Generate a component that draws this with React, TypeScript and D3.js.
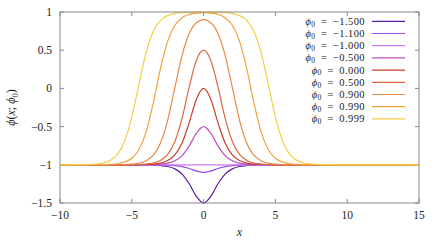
import React from "react";
import * as d3 from "d3";

// x grid (right half; the profiles are symmetric about x = 0)
const xGrid = [0, 0.5, 1, 1.5, 2, 2.5, 3, 3.5, 4, 4.5, 5, 5.5, 6, 6.5, 7, 7.5, 8, 9, 10, 15];

const phi0Labels = ["−1.500", "−1.100", "−1.000", "−0.500", "0.000", "0.500", "0.900", "0.990", "0.999"];

const sM150 = [-1.5, -1.414, -1.248, -1.121, -1.053, -1.022, -1.009, -1.004, -1.002, -1.001, -1, -1, -1, -1, -1, -1, -1, -1, -1, -1];
const sM110 = [-1.1, -1.082, -1.048, -1.023, -1.01, -1.004, -1.002, -1.001, -1, -1, -1, -1, -1, -1, -1, -1, -1, -1, -1, -1];
const sM100 = [-1, -1, -1, -1, -1, -1, -1, -1, -1, -1, -1, -1, -1, -1, -1, -1, -1, -1, -1, -1];
const sM050 = [-0.5, -0.586, -0.752, -0.879, -0.947, -0.978, -0.991, -0.996, -0.998, -0.999, -1, -1, -1, -1, -1, -1, -1, -1, -1, -1];
const sP000 = [0, -0.142, -0.448, -0.715, -0.871, -0.945, -0.978, -0.991, -0.996, -0.9985, -1, -1, -1, -1, -1, -1, -1, -1, -1, -1];
const sP050 = [0.5, 0.368, 0.019, -0.39, -0.696, -0.865, -0.943, -0.977, -0.99, -0.996, -0.9985, -1, -1, -1, -1, -1, -1, -1, -1, -1];
const sP090 = [0.9, 0.86, 0.719, 0.433, 0.012, -0.415, -0.714, -0.874, -0.947, -0.978, -0.991, -0.9965, -0.9986, -1, -1, -1, -1, -1, -1, -1];
const sP099 = [0.99, 0.986, 0.969, 0.926, 0.826, 0.618, 0.261, -0.185, -0.566, -0.799, -0.914, -0.964, -0.986, -0.994, -0.998, -0.999, -1, -1, -1, -1];
const sP0999 = [0.999, 0.999, 0.997, 0.992, 0.981, 0.954, 0.89, 0.748, 0.472, 0.059, -0.377, -0.691, -0.863, -0.942, -0.976, -0.99, -0.996, -0.999, -1, -1];

const seriesList = [sM150, sM110, sM100, sM050, sP000, sP050, sP090, sP099, sP0999];
const colors = ["#5a1d9e", "#9a4de8", "#c77cf8", "#bd4fc2", "#c8402c", "#dc6942", "#e98a4a", "#f2a33a", "#f6cd45"];

const xTicks = [-10, -5, 0, 5, 10, 15];
const yTicks = [-1.5, -1, -0.5, 0, 0.5, 1];
const yTickLabels = ["−1.5", "−1", "−0.5", "0", "0.5", "1"];
const xTickLabels = ["−10", "−5", "0", "5", "10", "15"];

const W = 442, H = 243;
const L = 60, R = 419, T = 12, B = 203;
const FONT = "'Liberation Serif', 'Times New Roman', serif";

export default function App() {
  const x = d3.scaleLinear().domain([-10, 15]).range([L, R]);
  const y = d3.scaleLinear().domain([-1.5, 1]).range([B, T]);
  const line = d3
    .line<[number, number]>()
    .x((d) => x(d[0]))
    .y((d) => y(d[1]))
    .curve(d3.curveMonotoneX);

  const buildPts = (vals: number[]): [number, number][] => {
    const left: [number, number][] = [];
    for (let i = xGrid.length - 1; i > 0; i--) {
      if (-xGrid[i] >= -10) left.push([-xGrid[i], vals[i]]);
    }
    const right: [number, number][] = xGrid.map((g, i) => [g, vals[i]] as [number, number]);
    return [...left, ...right];
  };

  const tickLen = 4;
  const legendTextX = 365;
  const legendLineX0 = 372;
  const legendLineX1 = 405;
  const legendY0 = 21.3;
  const legendDy = 12.2;
  const txt = { fontFamily: FONT, fill: "#222" } as React.CSSProperties;

  return (
    <svg width={W} height={H} style={{ position: "absolute", left: 0, top: 0, background: "#fff", fontFamily: FONT }}>
      <rect x={0} y={0} width={W} height={H} fill="#fff" />
      {/* ticks */}
      {xTicks.map((t, i) => (
        <g key={"xt" + i}>
          <line x1={x(t)} x2={x(t)} y1={B} y2={B - tickLen} stroke="#888" strokeWidth={1} />
          <line x1={x(t)} x2={x(t)} y1={T} y2={T + tickLen} stroke="#888" strokeWidth={1} />
          <text x={x(t)} y={219} textAnchor="middle" fontSize={11.5} style={txt}>
            {xTickLabels[i]}
          </text>
        </g>
      ))}
      {yTicks.map((t, i) => (
        <g key={"yt" + i}>
          <line x1={L} x2={L + tickLen} y1={y(t)} y2={y(t)} stroke="#888" strokeWidth={1} />
          <line x1={R} x2={R - tickLen} y1={y(t)} y2={y(t)} stroke="#888" strokeWidth={1} />
          <text x={52} y={y(t) + 4} textAnchor="end" fontSize={11.5} style={txt}>
            {yTickLabels[i]}
          </text>
        </g>
      ))}
      {/* curves */}
      <defs>
        <clipPath id="clip">
          <rect x={L} y={T - 1} width={R - L} height={B - T + 2} />
        </clipPath>
      </defs>
      <g clipPath="url(#clip)">
        {seriesList.map((s, i) => (
          <path key={"c" + i} d={line(buildPts(s)) || ""} fill="none" stroke={colors[i]} strokeWidth={1.2} />
        ))}
      </g>
      {/* frame */}
      <rect x={L} y={T} width={R - L} height={B - T} fill="none" stroke="#888" strokeWidth={1} />
      {/* legend */}
      {phi0Labels.map((lab, i) => {
        const yy = legendY0 + i * legendDy;
        return (
          <g key={"lg" + i}>
            <text x={legendTextX} y={yy + 3.5} textAnchor="end" fontSize={10.5} letterSpacing={0.4} style={txt}>
              <tspan fontStyle="italic">ϕ</tspan>
              <tspan fontSize={7.5} dy={1.8}>0</tspan>
              <tspan dy={-1.8}>{"\u2002=\u2002" + lab}</tspan>
            </text>
            <line x1={legendLineX0} x2={legendLineX1} y1={yy} y2={yy} stroke={colors[i]} strokeWidth={1.2} />
          </g>
        );
      })}
      {/* axis labels */}
      <text x={239.5} y={236} textAnchor="middle" fontSize={12} fontStyle="italic" style={txt}>
        x
      </text>
      <text transform={`translate(15,107.5) rotate(-90)`} textAnchor="middle" fontSize={12} style={txt}>
        <tspan fontStyle="italic">ϕ</tspan>
        <tspan>(</tspan>
        <tspan fontStyle="italic">x</tspan>
        <tspan>; </tspan>
        <tspan fontStyle="italic">ϕ</tspan>
        <tspan fontSize={8.5} dy={2.5}>0</tspan>
        <tspan dy={-2.5}>)</tspan>
      </text>
    </svg>
  );
}
